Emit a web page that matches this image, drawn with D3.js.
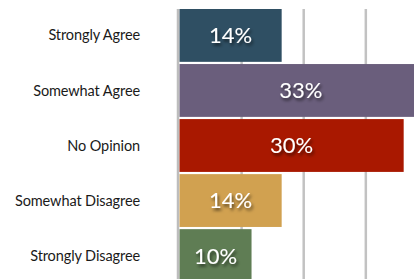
<!DOCTYPE html>
<html>
<head>
<meta charset="utf-8">
<script src="https://cdn.jsdelivr.net/npm/d3@7"></script>
<style>
  html, body { margin: 0; padding: 0; background: #fff; overflow: hidden; }
  svg { display: block; }
</style>
</head>
<body>
<div id="chart"></div>
<script>
// answers, top to bottom
const categories = ["Strongly Agree", "Somewhat Agree", "No Opinion", "Somewhat Disagree", "Strongly Disagree"];
const shares = [13.9, 33, 30.5, 13.9, 9.8];          // bar length, percent
const shareLabels = ["14%", "33%", "30%", "14%", "10%"];
const barColors = ["#2f4f63", "#6a5e7c", "#a91800", "#d1a150", "#5f7d54"];
const gridValues = [8.45, 16.9, 25.35];

const width = 414, height = 279;
const margin = { top: 9, left: 179.5 };

const svg = d3.select("#chart")
  .append("svg")
  .attr("width", width)
  .attr("height", height);

const defs = svg.append("defs");
defs.append("filter")
  .attr("id", "shadow")
  .attr("x", "-20%").attr("y", "-30%")
  .attr("width", "150%").attr("height", "180%")
  .append("feDropShadow")
  .attr("dx", 1.5)
  .attr("dy", 2.5)
  .attr("stdDeviation", 1.8)
  .attr("flood-color", "#000")
  .attr("flood-opacity", 0.6);

const x = d3.scaleLinear()
  .domain([0, 1])
  .range([margin.left, margin.left + 7.35]);

const y = d3.scaleBand()
  .domain(categories)
  .range([margin.top, 282])
  .paddingInner(0.04);

// gridlines behind bars
svg.append("g")
  .selectAll("line")
  .data(gridValues)
  .enter()
  .append("line")
  .attr("x1", d => x(d))
  .attr("x2", d => x(d))
  .attr("y1", margin.top)
  .attr("y2", height + 5)
  .attr("stroke", "#c2c2c2")
  .attr("stroke-width", 2.5);

// value axis baseline
svg.append("line")
  .attr("x1", x(0) - 1.5)
  .attr("x2", x(0) - 1.5)
  .attr("y1", margin.top)
  .attr("y2", height + 5)
  .attr("stroke", "#bdbdbd")
  .attr("stroke-width", 2.5);

const rows = categories.map((c, i) => ({ cat: c, value: shares[i], label: shareLabels[i], color: barColors[i] }));

svg.selectAll(".bar")
  .data(rows)
  .enter()
  .append("rect")
  .attr("class", "bar")
  .attr("x", x(0))
  .attr("y", d => y(d.cat))
  .attr("width", d => x(d.value) - x(0))
  .attr("height", y.bandwidth())
  .attr("fill", d => d.color);

svg.selectAll(".val")
  .data(rows)
  .enter()
  .append("text")
  .attr("class", "val")
  .attr("x", d => (x(0) + x(d.value)) / 2)
  .attr("y", d => y(d.cat) + y.bandwidth() / 2)
  .attr("dy", "0.36em")
  .attr("text-anchor", "middle")
  .attr("fill", "#fff")
  .attr("filter", "url(#shadow)")
  .style("font-family", "Lato, 'Open Sans', sans-serif")
  .style("font-size", "22px")
  .text(d => d.label);

// category labels
svg.selectAll(".cat")
  .data(rows)
  .enter()
  .append("text")
  .attr("class", "cat")
  .attr("x", 140)
  .attr("y", d => y(d.cat) + y.bandwidth() / 2)
  .attr("dy", "0.35em")
  .attr("text-anchor", "end")
  .attr("fill", "#1a1a1a")
  .style("font-family", "Lato, 'Open Sans', sans-serif")
  .style("font-size", "14.5px")
  .style("letter-spacing", "-0.1px")
  .text(d => d.cat);
</script>
</body>
</html>
